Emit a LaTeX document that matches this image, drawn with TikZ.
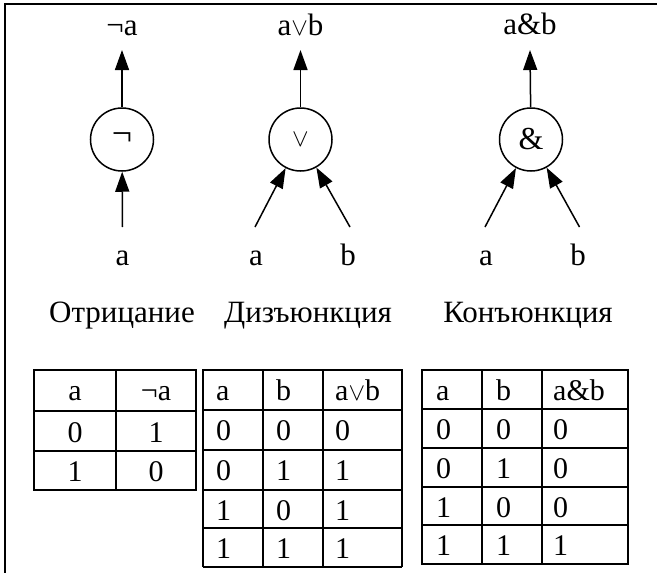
\documentclass[tikz,border=0pt]{standalone}
\usepackage{fontspec}
\setmainfont{Liberation Serif}
\usetikzlibrary{arrows.meta}
\newcommand{\myvee}{\ensuremath{\vee}}
\begin{document}
\begin{tikzpicture}[x=1pt,y=-1pt,
  op/.style={circle,draw,line width=1.5pt,minimum size=63pt,inner sep=0pt},
  lbl/.style={inner sep=0pt,anchor=base,font=\fontsize{31}{32}\selectfont},
  wire/.style={line width=1.5pt,-{Triangle[length=20pt,width=14pt]}},
  cell/.style={inner sep=0pt,anchor=base,font=\fontsize{30}{32}\selectfont},
  cellw/.style={cell,anchor=base west},
  outerline/.style={line width=2pt},
  innerline/.style={line width=1.6pt}]
\useasboundingbox (0,0) rectangle (657,573);

% page frame
\draw[line width=2pt] (657,4.3) -- (5,4.3) -- (5,573);

% operator circles
\node[op] (neg) at (122,139.5) {\fontsize{36}{36}\selectfont ¬};
\node[op] (dis) at (300.5,139.5) {\fontsize{25}{25}\selectfont\myvee};
\node[op] (con) at (531,139.5) {\fontsize{32}{32}\selectfont\&};

% results above
\node[lbl] (negout) at (122,35) {¬a};
\node[lbl] (disout) at (300.5,35) {a\myvee b};
\node[lbl] (conout) at (530,34) {a\&b};
\draw[wire] (neg) -- ([yshift=-15pt]negout.base);
\draw[wire] (dis) -- ([yshift=-15pt]disout.base);
\draw[wire] (con) -- ([yshift=-16pt]conout.base);

% operands below
\node[lbl] (nega) at (122.5,265) {a};
\node[lbl] (disa) at (256,265) {a};
\node[lbl] (disb) at (348,265) {b};
\node[lbl] (cona) at (486,265) {a};
\node[lbl] (conb) at (578,265) {b};
\coordinate (nega-in) at (122.5,227);
\coordinate (disa-in) at (255,227);
\coordinate (disb-in) at (350,227);
\coordinate (cona-in) at (485,227);
\coordinate (conb-in) at (579.5,227);
\draw[wire] (nega-in) -- (neg);
\draw[wire] (disa-in) -- (dis);
\draw[wire] (disb-in) -- (dis);
\draw[wire] (cona-in) -- (con);
\draw[wire] (conb-in) -- (con);

% operation names
\node[lbl] (negname) at (122,322) {Отрицание};
\node[lbl] (disname) at (308,322) {Дизъюнкция};
\node[lbl] (conname) at (528,322) {Конъюнкция};

% truth table: negation
\draw[outerline] (34,370) rectangle (196,490);
\draw[innerline] (116,370) -- (116,490) (34,411) -- (196,411) (34,451) -- (196,451);
\foreach \y/\p/\q [count=\i] in {400/a/¬a,442/0/1,481/1/0}{
  \node[cell] (tn-\i-1) at (75,\y) {\p};
  \node[cell] (tn-\i-2) at (156,\y) {\q};
}

% truth table: disjunction
\draw[outerline] (203,567) -- (203,370) -- (402,370) -- (402,567);
\draw[innerline] (203,567) -- (402,567);
\draw[innerline] (263,370) -- (263,567) (323,370) -- (323,567);
\foreach \y in {410,450,490,528}{
  \draw[innerline] (203,\y) -- (402,\y);
}
\foreach \y/\p/\q/\r [count=\i] in {400/a/b/a\myvee b,440/0/0/0,480/0/1/1,520/1/0/1,558/1/1/1}{
  \node[cellw] (td-\i-1) at (216,\y) {\p};
  \node[cellw] (td-\i-2) at (276,\y) {\q};
  \node[cellw] (td-\i-3) at (335,\y) {\r};
}

% truth table: conjunction
\draw[outerline] (422,370) rectangle (628,564);
\draw[innerline] (482,370) -- (482,564) (542,370) -- (542,564);
\foreach \y in {409,448,487,525}{
  \draw[innerline] (422,\y) -- (628,\y);
}
\foreach \y/\p/\q/\r [count=\i] in {400/a/b/a\&b,439/0/0/0,478/0/1/0,517/1/0/0,555/1/1/1}{
  \node[cellw] (tc-\i-1) at (436,\y) {\p};
  \node[cellw] (tc-\i-2) at (496,\y) {\q};
  \node[cellw] (tc-\i-3) at (553,\y) {\r};
}
\end{tikzpicture}
\end{document}
